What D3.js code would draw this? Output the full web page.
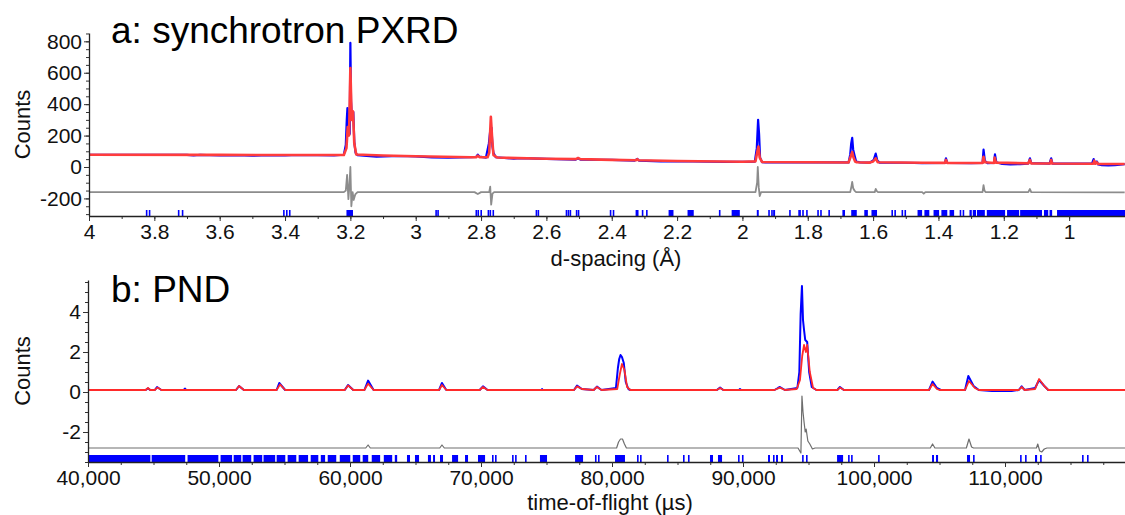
<!DOCTYPE html>
<html>
<head>
<meta charset="utf-8">
<script src="https://cdn.jsdelivr.net/npm/d3@7"></script>
<style>
  html, body { margin: 0; padding: 0; background: #fff; }
  svg { display: block; font-family: "Liberation Sans", Arial, sans-serif; }
</style>
</head>
<body>
<svg id="chart" width="1125" height="515"></svg>
<script>
// ---------------- DATA ----------------
// Panel a: synchrotron PXRD, x = d-spacing (Å), y = counts
const topXTicks = [4, 3.8, 3.6, 3.4, 3.2, 3, 2.8, 2.6, 2.4, 2.2, 2, 1.8, 1.6, 1.4, 1.2, 1];
const topYTicks = [800, 600, 400, 200, 0, -200];

const topObs = [
  [4.0,78],[3.70,77],[3.68,73],[3.66,77],[3.60,73],[3.55,75],[3.50,72],[3.45,75],[3.40,73],[3.38,76],[3.30,76],[3.25,73],[3.22,78],
  [3.214,140],[3.211,300],[3.209,375],[3.206,220],[3.204,290],[3.202,210],[3.200,790],[3.198,420],[3.195,300],
  [3.191,350],[3.188,160],[3.184,90],[3.178,75],[3.15,70],[3.12,66],[3.05,70],[3.0,68],[2.95,61],[2.90,60],
  [2.83,62],[2.815,64],[2.81,78],[2.805,66],[2.785,60],[2.776,150],[2.772,230],[2.768,250],[2.765,130],[2.762,90],
  [2.755,62],[2.70,53],[2.68,57],[2.60,52],[2.51,47],[2.503,55],[2.496,47],[2.40,45],[2.33,41],[2.322,52],
  [2.316,40],[2.25,36],[2.20,37],[2.15,35],[2.05,33],[2.0,32],[1.962,34],[1.956,120],[1.952,300],[1.949,210],
  [1.946,60],[1.940,31],[1.93,29],[1.85,30],[1.80,30],[1.675,29],[1.670,80],[1.667,150],[1.664,185],[1.661,110],
  [1.657,75],[1.652,35],[1.640,29],[1.61,28],[1.598,45],[1.592,85],[1.587,40],[1.58,28],[1.50,27],[1.45,24],
  [1.38,26],[1.377,55],[1.373,26],[1.30,25],[1.265,26],[1.262,110],[1.258,40],[1.25,25],[1.23,26],[1.227,80],
  [1.223,30],[1.205,19],[1.18,17],[1.15,18],[1.125,22],[1.12,55],[1.116,24],[1.06,22],[1.055,55],[1.051,22],
  [1.00,22],[0.93,21],[0.925,50],[0.921,22],[0.915,35],[0.911,16],[0.90,12],[0.88,10],[0.86,12],[0.83,18]
];

const topCalc = [
  [4.0,78],[3.6,77],[3.3,76],[3.22,76],[3.212,120],[3.208,255],[3.204,200],[3.200,630],[3.196,300],
  [3.192,355],[3.188,150],[3.182,80],[3.1,73],[3.0,68],[2.83,62],[2.815,62],[2.81,72],[2.805,63],
  [2.78,62],[2.775,90],[2.770,320],[2.766,180],[2.762,75],[2.75,60],[2.6,52],[2.51,50],[2.503,57],
  [2.496,50],[2.4,45],[2.325,43],[2.322,50],[2.318,43],[2.2,38],[2.0,33],[1.960,36],[1.955,90],
  [1.951,130],[1.947,60],[1.940,32],[1.8,30],[1.675,29],[1.668,70],[1.664,95],[1.660,60],[1.655,35],
  [1.650,30],[1.61,28],[1.600,35],[1.592,55],[1.586,30],[1.45,27],[1.38,26],[1.377,45],[1.373,26],
  [1.265,25],[1.262,65],[1.258,30],[1.23,25],[1.228,60],[1.224,28],[1.125,23],[1.12,45],[1.116,23],
  [1.058,22],[1.055,45],[1.052,22],[0.926,21],[0.923,40],[0.920,21],[0.915,30],[0.912,20],[0.83,19]
];

const topDiff = [
  [4.0,-160],[3.22,-160],[3.214,-150],[3.210,-50],[3.206,-205],[3.203,-120],[3.200,0],[3.197,-250],
  [3.193,-160],[3.190,-210],[3.185,-175],[3.178,-160],[2.82,-160],[2.81,-172],[2.80,-160],[2.775,-160],
  [2.772,-125],[2.769,-240],[2.765,-170],[2.76,-160],[1.960,-160],[1.955,-100],[1.953,0],[1.950,-130],
  [1.947,-185],[1.943,-160],[1.670,-160],[1.666,-120],[1.664,-95],[1.661,-135],[1.657,-150],[1.652,-160],
  [1.595,-160],[1.592,-140],[1.588,-155],[1.585,-160],[1.45,-160],[1.445,-170],[1.44,-160],[1.265,-160],
  [1.262,-115],[1.259,-150],[1.256,-160],[1.125,-160],[1.12,-140],[1.116,-160],[0.83,-162]
];

// reflection markers (start, end) in d-spacing
const topRefl = [
  [3.826,3.824],[3.817,3.815],[3.728,3.726],[3.716,3.714],[3.406,3.403],[3.397,3.394],[3.388,3.386],
  [3.212,3.192],[2.940,2.938],[2.934,2.932],[2.817,2.815],[2.811,2.809],[2.802,2.800],[2.780,2.778],
  [2.774,2.772],[2.765,2.763],[2.633,2.631],[2.627,2.625],[2.541,2.539],[2.535,2.533],[2.529,2.527],
  [2.510,2.508],[2.504,2.502],[2.406,2.404],[2.397,2.395],[2.327,2.318],[2.308,2.306],[2.295,2.293],
  [2.226,2.211],[2.168,2.149],[2.072,2.070],[2.033,2.008],[1.956,1.950],[1.921,1.919],[1.912,1.910],
  [1.906,1.900],[1.857,1.855],[1.829,1.827],[1.826,1.824],[1.817,1.815],[1.805,1.803],[1.771,1.769],
  [1.762,1.760],[1.737,1.735],[1.694,1.686],[1.667,1.650],[1.627,1.616],[1.605,1.588],[1.544,1.542],
  [1.535,1.533],[1.513,1.511],[1.504,1.502],[1.464,1.450],[1.443,1.428],[1.415,1.398],[1.391,1.373],
  [1.366,1.352],[1.335,1.333],[1.326,1.324],[1.305,1.298],[1.295,1.285],[1.282,1.258],[1.252,1.196],
  [1.190,1.153],[1.150,1.083],[1.077,1.064],[1.060,1.052],[1.037,0.829]
];

// Panel b: PND, x = time-of-flight (µs), y = counts
const botXTicks = [40000, 50000, 60000, 70000, 80000, 90000, 100000, 110000];
const botYTicks = [4, 2, 0, -2];

const botObs = [
  [40000,0.1],[44400,0.1],[44580,0.18],[44750,0.1],[45100,0.1],[45270,0.25],[45600,0.1],[47300,0.1],
  [47400,0.17],[47500,0.1],[51300,0.1],[51530,0.3],[51900,0.1],[54400,0.1],[54600,0.45],[55050,0.1],
  [59600,0.1],[59850,0.35],[60250,0.1],[61100,0.1],[61380,0.57],[61800,0.1],[66800,0.1],[67020,0.45],
  [67350,0.1],[69900,0.1],[70150,0.28],[70500,0.1],[74600,0.1],[74660,0.15],[74720,0.1],[77100,0.1],
  [77330,0.32],[77700,0.15],[78600,0.1],[78850,0.27],[79200,0.1],[80300,0.2],[80450,1.2],[80550,1.65],
  [80650,1.85],[80760,1.75],[80900,1.45],[81050,0.5],[81250,0.15],[81400,0.1],[88000,0.1],[88250,0.22],
  [88500,0.1],[89700,0.1],[89770,0.15],[89850,0.1],[92400,0.1],[92670,0.2],[92820,0.25],[93200,0.1],
  [94150,0.2],[94300,1.0],[94400,3.9],[94500,5.3],[94580,3.6],[94660,3.1],[94750,2.6],[94900,2.5],
  [95050,1.0],[95250,0.25],[95600,0.1],[97200,0.1],[97400,0.25],[97700,0.1],[104200,0.1],[104470,0.52],
  [104800,0.2],[105100,0.1],[106950,0.1],[107200,0.8],[107600,0.3],[108000,0.1],[109000,0.05],[110500,0.05],
  [111050,0.1],[111270,0.28],[111500,0.1],[112300,0.2],[112600,0.6],[113000,0.3],[113300,0.1],[119160,0.1]
];

const botCalc = [
  [40000,0.1],[44400,0.1],[44580,0.2],[44750,0.1],[45100,0.1],[45300,0.22],[45600,0.1],[51300,0.1],
  [51530,0.3],[51900,0.1],[54400,0.1],[54660,0.38],[55050,0.1],[59600,0.1],[59850,0.33],[60250,0.1],
  [61100,0.1],[61380,0.42],[61800,0.1],[66800,0.1],[67020,0.35],[67350,0.1],[69900,0.1],[70150,0.25],
  [70500,0.1],[77100,0.1],[77330,0.28],[77700,0.15],[78600,0.1],[78850,0.25],[79200,0.1],[80400,0.15],
  [80600,0.9],[80760,1.4],[80950,1.1],[81150,0.25],[81400,0.1],[88000,0.1],[88250,0.2],[88500,0.1],
  [92400,0.1],[92820,0.22],[93200,0.1],[94100,0.15],[94350,0.6],[94520,1.8],[94660,2.35],[94800,2.0],
  [94900,2.35],[95100,1.0],[95350,0.2],[95600,0.1],[97200,0.1],[97400,0.22],[97700,0.1],[104200,0.1],
  [104470,0.4],[104800,0.15],[105000,0.1],[106950,0.1],[107250,0.55],[107700,0.2],[108000,0.1],[111050,0.1],
  [111270,0.25],[111500,0.1],[112300,0.15],[112600,0.65],[113000,0.3],[113300,0.1],[119160,0.1]
];

const botDiff = [
  [40000,-2.8],[61200,-2.8],[61380,-2.65],[61550,-2.8],[66850,-2.8],[67020,-2.65],[67200,-2.8],[80350,-2.8],
  [80500,-2.5],[80650,-2.35],[80800,-2.35],[80950,-2.6],[81100,-2.8],[94200,-2.8],[94330,-2.95],[94420,-3.05],
  [94500,-0.2],[94580,-1.0],[94660,-1.5],[94750,-2.0],[94820,-1.85],[94950,-2.45],[95100,-2.6],[95300,-2.85],
  [95500,-2.8],[104300,-2.8],[104470,-2.6],[104650,-2.8],[107050,-2.8],[107250,-2.35],[107450,-2.75],[107600,-2.8],
  [112400,-2.8],[112500,-2.6],[112650,-2.95],[112800,-3.0],[113000,-2.85],[113200,-2.8],[119160,-2.8]
];

// reflection markers (start, end) in µs
const botRefl = [
  [40000,44760],[44860,47420],[47600,49950],[50120,51000],[51120,51700],[51800,52460],[52640,53300],
  [53400,54290],[54400,55060],[55240,55900],[56080,56800],[57000,57580],[57770,58100],[58300,58950],
  [59220,60020],[60210,60780],[60970,61390],[61660,62300],[62580,63220],[63420,63600],[64350,64580],
  [64960,65270],[65950,66180],[66340,66490],[66870,67100],[67790,68250],[68780,69010],[69770,70310],
  [70840,70900],[71070,71130],[72370,72430],[72600,72660],[73360,73420],[74500,75040],[77180,77790],
  [78700,78760],[78930,78990],[80230,80990],[81910,81970],[82140,82200],[84200,84260],[85420,85480],
  [85800,85860],[87480,87710],[88090,88400],[89620,89680],[89920,89980],[91910,92060],[92290,92350],
  [92520,92670],[92900,93050],[94510,94580],[94810,94890],[97180,97640],[98020,98080],[98250,98310],
  [100310,100370],[104430,104580],[104730,104890],[107100,107330],[107560,107620],[111150,111210],
  [111530,111590],[112290,112450],[112680,112740],[115880,115940],[116260,116320]
];

// ---------------- DRAW ----------------
const svg = d3.select("#chart");
const FONT_TICK = 21;

function drawPanel(cfg) {
  const g = svg.append("g");
  const x = d3.scaleLinear().domain(cfg.xDomain).range([cfg.left, cfg.right]);
  const y = d3.scaleLinear().domain(cfg.yDomain).range([cfg.bottom, cfg.top]);

  const clipId = "clip-" + cfg.id;
  svg.append("clipPath").attr("id", clipId).append("rect")
    .attr("x", cfg.left).attr("y", cfg.top - 2)
    .attr("width", cfg.right - cfg.left).attr("height", cfg.bottom - cfg.top + 2);

  const plot = g.append("g").attr("clip-path", `url(#${clipId})`);

  // reflection markers
  plot.append("g").selectAll("rect").data(cfg.refl).join("rect")
    .attr("x", d => Math.min(x(d[0]), x(d[1])))
    .attr("width", d => Math.max(1.6, Math.abs(x(d[1]) - x(d[0]))))
    .attr("y", cfg.bottom - cfg.reflH)
    .attr("height", cfg.reflH)
    .attr("fill", "#0000ff");

  const line = d3.line().x(d => x(d[0])).y(d => y(d[1]));

  plot.append("path").datum(cfg.diff).attr("d", line)
    .attr("fill", "none").attr("stroke", cfg.diffColor).attr("stroke-width", cfg.diffW)
    .attr("stroke-linejoin", "round");
  plot.append("path").datum(cfg.obs).attr("d", line)
    .attr("fill", "none").attr("stroke", "#0000ff").attr("stroke-width", cfg.obsW)
    .attr("stroke-linejoin", "round");
  plot.append("path").datum(cfg.calc).attr("d", line)
    .attr("fill", "none").attr("stroke", cfg.calcColor).attr("stroke-width", cfg.calcW)
    .attr("stroke-linejoin", "round");

  // minor ticks
  const xa = g.append("g").attr("transform", `translate(0,${cfg.bottom})`);
  xa.call(d3.axisBottom(x).tickValues(cfg.xMinor).tickSize(3).tickFormat(""))
    .call(s => s.select(".domain").remove());
  const xm = g.append("g").attr("transform", `translate(0,${cfg.bottom})`);
  xm.call(d3.axisBottom(x).tickValues(cfg.xTicks).tickSize(5).tickSizeOuter(0).tickPadding(3)
      .tickFormat(cfg.xFmt))
    .call(s => s.selectAll("text").attr("font-size", FONT_TICK).attr("fill", "#111")
      .attr("font-family", "Liberation Sans, Arial, sans-serif"));
  const ya = g.append("g").attr("transform", `translate(${cfg.left},0)`);
  ya.call(d3.axisLeft(y).tickValues(cfg.yMinor).tickSize(3).tickFormat(""))
    .call(s => s.select(".domain").remove());
  const ym = g.append("g").attr("transform", `translate(${cfg.left},0)`);
  ym.call(d3.axisLeft(y).tickValues(cfg.yTicks).tickSize(5).tickSizeOuter(0).tickPadding(2)
      .tickFormat(d => String(d)))
    .call(s => s.selectAll("text").attr("font-size", FONT_TICK).attr("fill", "#111")
      .attr("font-family", "Liberation Sans, Arial, sans-serif"));
  g.selectAll(".domain").attr("stroke", "#222").attr("stroke-width", 1.3);
  g.selectAll(".tick line").attr("stroke", "#333");

  // titles
  g.append("text").attr("x", 111).attr("y", cfg.titleY)
    .attr("font-size", 37).attr("fill", "#000").text(cfg.title);
  g.append("text")
    .attr("transform", `translate(30,${(cfg.top + cfg.bottom) / 2 + cfg.countsShift}) rotate(-90)`)
    .attr("text-anchor", "middle").attr("font-size", 22).attr("fill", "#111").text("Counts");
  g.append("text").attr("x", cfg.xLabelX).attr("y", cfg.xLabelY)
    .attr("text-anchor", "middle").attr("font-size", 22).attr("fill", "#111").text(cfg.xLabel);
}

drawPanel({
  id: "a", left: 89, right: 1125, top: 33, bottom: 216,
  xDomain: [4, 0.829], yDomain: [-312, 853],
  xTicks: topXTicks, xMinor: d3.range(0, 31).map(i => +(4 - i * 0.1).toFixed(2)).filter(v => v > 0.83),
  yTicks: topYTicks, yMinor: d3.range(-300, 851, 50),
  xFmt: d => String(d),
  obs: topObs, calc: topCalc, diff: topDiff, refl: topRefl, reflH: 6,
  obsW: 2.2, calcW: 2.6, calcColor: "#ff3c3c", diffColor: "#8c8c8c", diffW: 1.8,
  title: "a: synchrotron PXRD", titleY: 43, countsShift: 0,
  xLabel: "d-spacing (Å)", xLabelX: 616, xLabelY: 266
});

drawPanel({
  id: "b", left: 88, right: 1125, top: 280, bottom: 462,
  xDomain: [40000, 119160], yDomain: [-3.5, 5.6],
  xTicks: botXTicks, xMinor: d3.range(40000, 119001, 2500),
  yTicks: botYTicks, yMinor: d3.range(-3.5, 5.51, 0.5),
  xFmt: d3.format(","),
  obs: botObs, calc: botCalc, diff: botDiff, refl: botRefl, reflH: 7,
  obsW: 2, calcW: 1.8, calcColor: "#ff2a2a", diffColor: "#6e6e6e", diffW: 1.2,
  title: "b: PND", titleY: 302, countsShift: 0,
  xLabel: "time-of-flight (µs)", xLabelX: 610, xLabelY: 510
});
</script>
</body>
</html>
